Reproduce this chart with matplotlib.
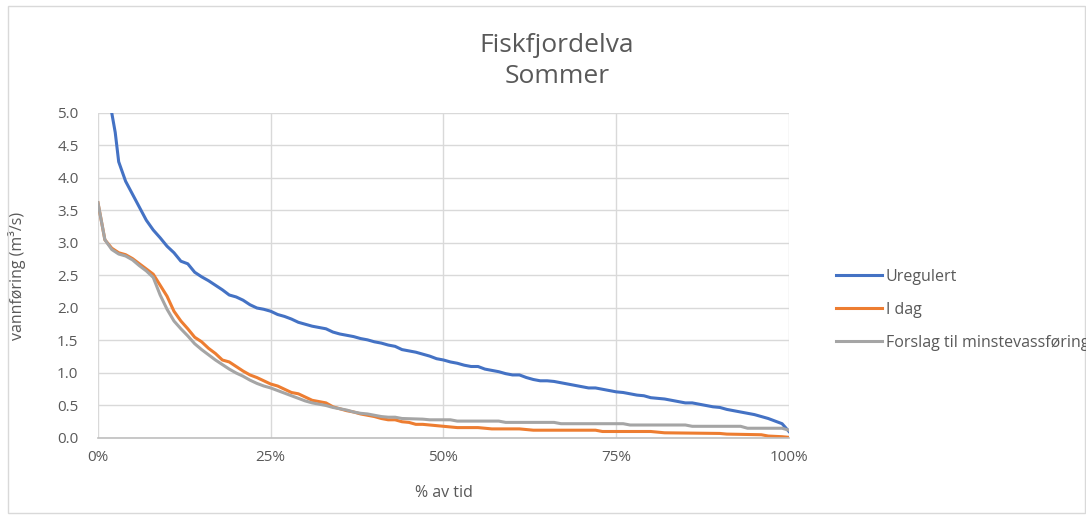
import matplotlib
matplotlib.use("Agg")
import matplotlib.pyplot as plt
from matplotlib.patches import Rectangle
from matplotlib.ticker import FuncFormatter, MultipleLocator

# --- data (percent of time, discharge m3/s) ---
ureg_x = [0, 1, 2, 2.5, 3, 4, 5, 6, 7, 8, 9, 10, 11, 12, 13, 14, 15, 16, 17, 18, 19, 20,
          21, 22, 23, 24, 25, 26, 27, 28, 29, 30, 31, 32, 33, 34, 35, 36, 37, 38, 39, 40,
          41, 42, 43, 44, 45, 46, 47, 48, 49, 50, 51, 52, 53, 54, 55, 56, 57, 58, 59, 60,
          61, 62, 63, 64, 65, 66, 67, 68, 69, 70, 71, 72, 73, 74, 75, 76, 77, 78, 79, 80,
          81, 82, 83, 84, 85, 86, 87, 88, 89, 90, 91, 92, 93, 94, 95, 96, 97, 98, 99, 100]
ureg_y = [8.0, 6.2, 5.0, 4.7, 4.25, 3.95, 3.75, 3.55, 3.35, 3.2, 3.08, 2.95, 2.85, 2.72, 2.68,
          2.55, 2.48, 2.42, 2.35, 2.28, 2.2, 2.17, 2.12, 2.05, 2.0, 1.98, 1.95, 1.9, 1.87,
          1.83, 1.78, 1.75, 1.72, 1.7, 1.68, 1.63, 1.6, 1.58, 1.56, 1.53, 1.51, 1.48, 1.46,
          1.43, 1.41, 1.36, 1.34, 1.32, 1.29, 1.26, 1.22, 1.2, 1.17, 1.15, 1.12, 1.1, 1.1,
          1.06, 1.04, 1.02, 0.99, 0.97, 0.97, 0.93, 0.9, 0.88, 0.88, 0.87, 0.85, 0.83, 0.81,
          0.79, 0.77, 0.77, 0.75, 0.73, 0.71, 0.7, 0.68, 0.66, 0.65, 0.62, 0.61, 0.6, 0.58,
          0.56, 0.54, 0.54, 0.52, 0.5, 0.48, 0.47, 0.44, 0.42, 0.4, 0.38, 0.36, 0.33, 0.3,
          0.26, 0.22, 0.1]

idag_x = [0, 1, 2, 3, 4, 5, 6, 7, 8, 9, 10, 11, 12, 13, 14, 15, 16, 17, 18, 19, 20, 21, 22,
          23, 24, 25, 26, 27, 28, 29, 30, 31, 32, 33, 34, 35, 36, 37, 38, 39, 40, 41, 42, 43,
          44, 45, 46, 47, 48, 49, 50, 52, 55, 57, 61, 63, 72, 73, 80, 82, 90, 91, 96, 97, 99, 100]
idag_y = [3.62, 3.05, 2.92, 2.85, 2.82, 2.76, 2.68, 2.6, 2.52, 2.35, 2.18, 1.95, 1.8, 1.68,
          1.55, 1.48, 1.38, 1.3, 1.2, 1.17, 1.1, 1.03, 0.97, 0.93, 0.88, 0.83, 0.8, 0.75, 0.7,
          0.68, 0.63, 0.58, 0.56, 0.54, 0.48, 0.45, 0.42, 0.4, 0.37, 0.35, 0.33, 0.3, 0.28,
          0.28, 0.25, 0.24, 0.21, 0.21, 0.2, 0.19, 0.18, 0.16, 0.16, 0.14, 0.14, 0.12, 0.12,
          0.1, 0.1, 0.08, 0.07, 0.06, 0.05, 0.03, 0.02, 0.01]

forslag_x = [0, 1, 2, 3, 4, 5, 6, 7, 8, 9, 10, 11, 12, 13, 14, 15, 16, 17, 18, 19, 20, 21,
             22, 23, 24, 25, 26, 27, 28, 29, 30, 31, 32, 33, 34, 35, 36, 37, 38, 39, 40, 41,
             42, 43, 44, 47, 48, 51, 52, 58, 59, 66, 67, 76, 77, 85, 86, 93, 94, 99, 100]
forslag_y = [3.62, 3.05, 2.9, 2.83, 2.8, 2.74, 2.65, 2.57, 2.47, 2.2, 1.98, 1.8, 1.68, 1.57,
             1.45, 1.36, 1.28, 1.2, 1.13, 1.06, 1.0, 0.95, 0.89, 0.84, 0.8, 0.77, 0.73, 0.69,
             0.65, 0.61, 0.57, 0.54, 0.52, 0.5, 0.47, 0.45, 0.43, 0.4, 0.38, 0.37, 0.35, 0.33,
             0.32, 0.32, 0.3, 0.29, 0.28, 0.28, 0.26, 0.26, 0.24, 0.24, 0.22, 0.22, 0.2, 0.2,
             0.18, 0.18, 0.15, 0.15, 0.12]

series_labels = ["Uregulert", "I dag", "Forslag til minstevassføring"]
x_ticks = [0, 25, 50, 75, 100]

TXT = "#595959"
plt.rcParams['font.family'] = ['Open Sans', 'DejaVu Sans']

fig = plt.figure(figsize=(10.86, 5.2), dpi=100)
fig.patches.append(Rectangle((0.007, 0.013), 0.992, 0.975, transform=fig.transFigure,
                             fill=False, edgecolor="#d9d9d9", linewidth=1.0))

ax = fig.add_axes([0.0902, 0.1577, 0.6363, 0.625])
ax.plot(ureg_x, ureg_y, color="#4472C4", lw=2.2, label=series_labels[0])
ax.plot(idag_x, idag_y, color="#ED7D31", lw=2.2, label=series_labels[1])
ax.plot(forslag_x, forslag_y, color="#A5A5A5", lw=2.2, label=series_labels[2])

ax.set_xlim(0, 100)
ax.set_ylim(0, 5)
ax.set_xticks(x_ticks)
ax.xaxis.set_major_formatter(FuncFormatter(lambda v, p: f"{int(v)}%"))
ax.yaxis.set_major_locator(MultipleLocator(0.5))
ax.yaxis.set_major_formatter(FuncFormatter(lambda v, p: f"{v:.1f}"))
ax.grid(True, color="#d9d9d9", lw=1.0)
ax.set_axisbelow(True)
for s in ["top", "right", "left"]:
    ax.spines[s].set_visible(False)
ax.spines["bottom"].set_color("#bfbfbf")
ax.spines["bottom"].set_linewidth(1.2)
ax.tick_params(length=0, labelsize=11, colors=TXT)
ax.tick_params(axis="y", pad=14)
ax.tick_params(axis="x", pad=9)
ax.set_xlabel("% av tid", fontsize=11.5, color=TXT)
ax.set_ylabel("vannføring (m³/s)", fontsize=11.5, color=TXT)
ax.xaxis.set_label_coords(0.5, -0.145)
ax.yaxis.set_label_coords(-0.104, 0.5)

fig.text(0.513, 0.913, "Fiskfjordelva", ha="center", va="center", fontsize=19, color=TXT)
fig.text(0.513, 0.853, "Sommer", ha="center", va="center", fontsize=19, color=TXT)

leg = fig.legend(loc="upper left", bbox_to_anchor=(0.764, 0.495), frameon=False,
                 fontsize=11.5, handlelength=2.9, handletextpad=0.2, labelspacing=1.05,
                 borderaxespad=0)
for t in leg.get_texts():
    t.set_color(TXT)

fig.savefig("out.png", dpi=100)
